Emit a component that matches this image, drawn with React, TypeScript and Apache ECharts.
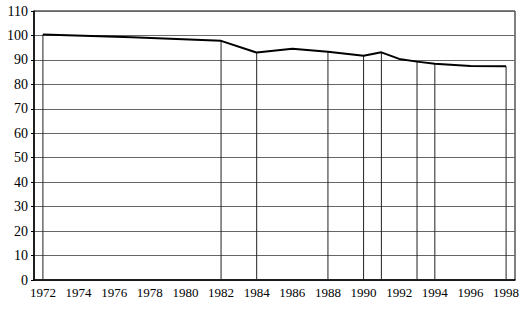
import React, { useEffect, useRef } from "react";
import * as echarts from "echarts";

const years: string[] = [];
for (let y = 1972; y <= 1998; y++) years.push(String(y));

// Observed vertices of the line (year -> value)
const pointYears = [1972, 1977, 1982, 1984, 1986, 1988, 1990, 1991, 1992, 1993, 1994, 1996, 1998];
const pointValues = [100.4, 99.3, 97.8, 93.0, 94.6, 93.3, 91.7, 93.1, 90.4, 89.3, 88.4, 87.5, 87.4];

// Years with a vertical drop line to the axis
const dropYears = [1972, 1982, 1984, 1988, 1990, 1991, 1993, 1994, 1998];

const yTicks = [0, 10, 20, 30, 40, 50, 60, 70, 80, 90, 100, 110];

const FONT = "Liberation Serif";

export default function App() {
  const ref = useRef<HTMLDivElement>(null);
  useEffect(() => {
    if (!ref.current) return;
    const chart = echarts.init(ref.current, undefined, { renderer: "svg" });
    const lineData = years.map((y) => {
      const i = pointYears.indexOf(Number(y));
      return i >= 0 ? pointValues[i] : null;
    });
    const dropData = years.map((y) => {
      const yr = Number(y);
      if (dropYears.indexOf(yr) < 0) return "-";
      const i = pointYears.indexOf(yr);
      return pointValues[i];
    });
    chart.setOption({
      animation: false,
      backgroundColor: "#ffffff",
      textStyle: { fontFamily: FONT },
      grid: { left: 34, right: 15, top: 11, bottom: 30, show: true, borderColor: "#000", borderWidth: 1 },
      xAxis: {
        type: "category",
        data: years,
        axisLine: { lineStyle: { color: "#000", width: 1.5 } },
        axisTick: { inside: true, alignWithLabel: true, interval: 0, length: 3, lineStyle: { color: "#000" } },
        axisLabel: { interval: 1, color: "#000", fontSize: 13, fontFamily: FONT, margin: 6 },
      },
      yAxis: {
        type: "value",
        min: yTicks[0],
        max: yTicks[yTicks.length - 1],
        interval: 10,
        axisLine: { show: true, lineStyle: { color: "#000", width: 1.5 } },
        axisTick: { show: true, length: 3, lineStyle: { color: "#000" } },
        axisLabel: { color: "#000", fontSize: 14, fontFamily: FONT, margin: 6 },
        splitLine: { show: true, lineStyle: { color: "#666", width: 1 } },
      },
      series: [
        { type: "bar", data: dropData, barWidth: 1, itemStyle: { color: "#222" }, silent: true, z: 1 },
        { type: "line", data: lineData, connectNulls: true, showSymbol: false, symbol: "none", lineStyle: { color: "#000", width: 2 }, z: 3 },
      ],
    });
    return () => chart.dispose();
  }, []);
  return <div ref={ref} style={{ position: "fixed", left: 0, top: 0, width: 530, height: 310 }} />;
}
